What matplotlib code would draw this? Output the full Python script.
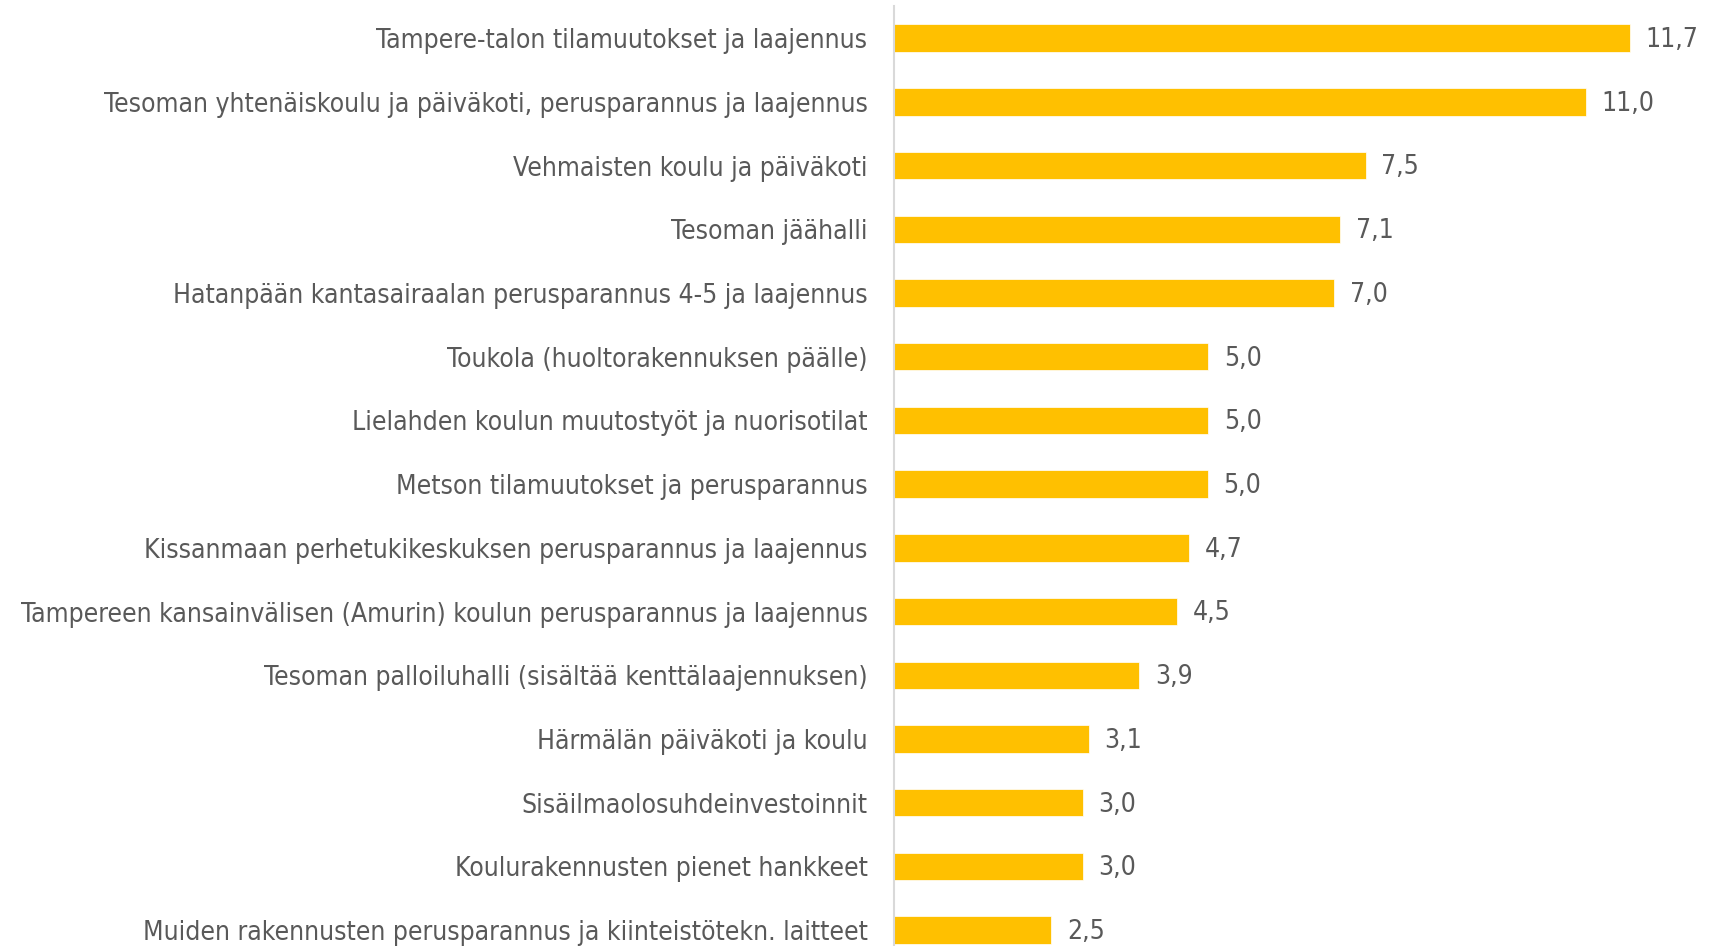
import matplotlib.pyplot as plt

projects = [
    "Tampere-talon tilamuutokset ja laajennus",
    "Tesoman yhtenäiskoulu ja päiväkoti, perusparannus ja laajennus",
    "Vehmaisten koulu ja päiväkoti",
    "Tesoman jäähalli",
    "Hatanpään kantasairaalan perusparannus 4-5 ja laajennus",
    "Toukola (huoltorakennuksen päälle)",
    "Lielahden koulun muutostyöt ja nuorisotilat",
    "Metson tilamuutokset ja perusparannus",
    "Kissanmaan perhetukikeskuksen perusparannus ja laajennus",
    "Tampereen kansainvälisen (Amurin) koulun perusparannus ja laajennus",
    "Tesoman palloiluhalli (sisältää kenttälaajennuksen)",
    "Härmälän päiväkoti ja koulu",
    "Sisäilmaolosuhdeinvestoinnit",
    "Koulurakennusten pienet hankkeet",
    "Muiden rakennusten perusparannus ja kiinteistötekn. laitteet",
]
values = [11.7, 11.0, 7.5, 7.1, 7.0, 5.0, 5.0, 4.99, 4.7, 4.5, 3.9, 3.1, 3.0, 3.0, 2.5]

BAR_COLOR = "#FFC000"
TEXT_COLOR = "#595959"

plt.rcParams['font.family'] = ['DejaVu Sans']
plt.rcParams['font.stretch'] = 'condensed'

fig = plt.figure(figsize=(17.09, 9.46), dpi=100)
ax = fig.add_axes([0.523, 0.0, 0.477, 0.994])

y = range(len(projects))
ax.barh(y, values, height=0.43, color=BAR_COLOR, edgecolor="white", linewidth=0.5)

for yi, v in zip(y, values):
    ax.text(v + 0.25, yi + 0.03, f"{v:.1f}".replace(".", ","), va="center", ha="left",
            fontsize=19, color=TEXT_COLOR, stretch='condensed')

ax.set_yticks(list(y))
ax.set_yticklabels(projects, fontsize=19, color=TEXT_COLOR, stretch='condensed')
ax.tick_params(axis="y", length=0, pad=19)
ax.set_xticks([])

ax.set_xlim(0, 12.96)
ax.set_ylim(14.25, -0.51)

for side in ["top", "right", "bottom"]:
    ax.spines[side].set_visible(False)
ax.spines["left"].set_color("#D9D9D9")
ax.spines["left"].set_linewidth(1.5)

fig.savefig("out.png", dpi=100)
